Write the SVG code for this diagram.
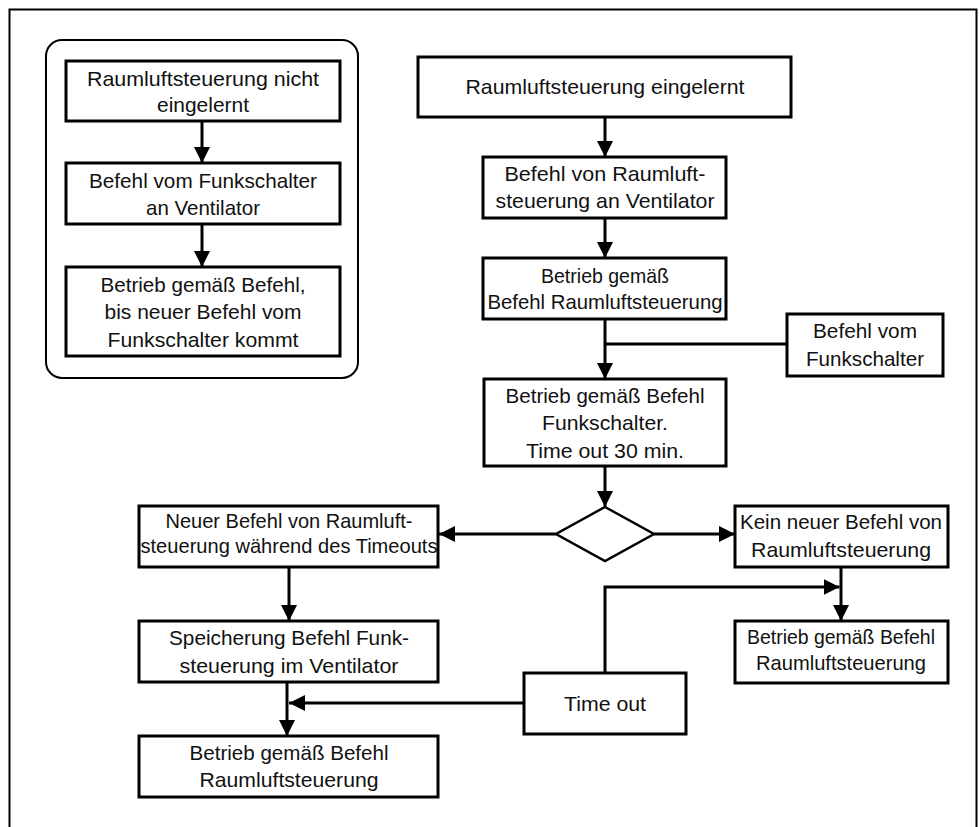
<svg xmlns="http://www.w3.org/2000/svg" width="980" height="827" viewBox="0 0 980 827">
<style>
.frame{fill:none;stroke:#000;stroke-width:2}
.box{fill:#fff;stroke:#000;stroke-width:3}
.dia{fill:#fff;stroke:#000;stroke-width:2.5}
.ln{fill:none;stroke:#000;stroke-width:3}
text{font-family:"Liberation Sans",Arial,sans-serif;font-size:21px;fill:#111;text-anchor:middle}
</style>
<defs>
<marker id="ah" markerUnits="userSpaceOnUse" markerWidth="16" markerHeight="16" refX="15" refY="7.5" orient="auto" viewBox="0 0 15 15">
<path d="M0,0 L15,7.5 L0,15 z" fill="#000"/>
</marker>
</defs>
<rect x="0" y="0" width="980" height="827" fill="#fff"/>
<rect class="frame" x="9.5" y="9.5" width="967" height="830"/>
<rect id="group-left" class="frame" x="46" y="40" width="312" height="338" rx="16"/>

<g id="connectors">
<line class="ln" x1="202" y1="121" x2="202" y2="163" marker-end="url(#ah)"/>
<line class="ln" x1="202" y1="224" x2="202" y2="267" marker-end="url(#ah)"/>
<line class="ln" x1="605" y1="117" x2="605" y2="157" marker-end="url(#ah)"/>
<line class="ln" x1="605" y1="218" x2="605" y2="258" marker-end="url(#ah)"/>
<line class="ln" x1="605" y1="319" x2="605" y2="379" marker-end="url(#ah)"/>
<line class="ln" x1="787" y1="344" x2="605" y2="344"/>
<line class="ln" x1="605" y1="466" x2="605" y2="507" marker-end="url(#ah)"/>
<line class="ln" x1="556" y1="534" x2="439" y2="534" marker-end="url(#ah)"/>
<line class="ln" x1="654" y1="534" x2="735" y2="534" marker-end="url(#ah)"/>
<line class="ln" x1="289" y1="567" x2="289" y2="621" marker-end="url(#ah)"/>
<line class="ln" x1="287" y1="682" x2="287" y2="736" marker-end="url(#ah)"/>
<line class="ln" x1="524" y1="703" x2="289" y2="703" marker-end="url(#ah)"/>
<line class="ln" x1="841" y1="567" x2="841" y2="621" marker-end="url(#ah)"/>
<polyline class="ln" points="605,673 605,587 839.5,587" marker-end="url(#ah)"/>
</g>

<g id="n1">
<rect class="box" x="66" y="61" width="274" height="60"/>
<text x="203" y="86" textLength="232" lengthAdjust="spacingAndGlyphs">Raumluftsteuerung nicht</text>
<text x="203" y="112" textLength="92" lengthAdjust="spacingAndGlyphs">eingelernt</text>
</g>
<g id="n2">
<rect class="box" x="66" y="163" width="274" height="61"/>
<text x="203" y="188" textLength="228" lengthAdjust="spacingAndGlyphs">Befehl vom Funkschalter</text>
<text x="203" y="215" textLength="114" lengthAdjust="spacingAndGlyphs">an Ventilator</text>
</g>
<g id="n3">
<rect class="box" x="66" y="267" width="274" height="89"/>
<text x="203" y="292" textLength="205" lengthAdjust="spacingAndGlyphs">Betrieb gemäß Befehl,</text>
<text x="203" y="319" textLength="197" lengthAdjust="spacingAndGlyphs">bis neuer Befehl vom</text>
<text x="203" y="347" textLength="191" lengthAdjust="spacingAndGlyphs">Funkschalter kommt</text>
</g>

<g id="r1">
<rect class="box" x="418" y="57" width="373" height="60"/>
<text x="605" y="94" textLength="279" lengthAdjust="spacingAndGlyphs">Raumluftsteuerung eingelernt</text>
</g>
<g id="r2">
<rect class="box" x="483" y="157" width="243" height="61"/>
<text x="605" y="181" textLength="201" lengthAdjust="spacingAndGlyphs">Befehl von Raumluft-</text>
<text x="605" y="208" textLength="219" lengthAdjust="spacingAndGlyphs">steuerung an Ventilator</text>
</g>
<g id="r3">
<rect class="box" x="483" y="258" width="243" height="61"/>
<text x="605" y="283" textLength="128" lengthAdjust="spacingAndGlyphs">Betrieb gemäß</text>
<text x="605" y="309" textLength="235" lengthAdjust="spacingAndGlyphs">Befehl Raumluftsteuerung</text>
</g>
<g id="funk">
<rect class="box" x="787" y="314" width="156" height="62"/>
<text x="865" y="338" textLength="104" lengthAdjust="spacingAndGlyphs">Befehl vom</text>
<text x="865" y="366" textLength="118" lengthAdjust="spacingAndGlyphs">Funkschalter</text>
</g>
<g id="r4">
<rect class="box" x="484" y="379" width="242" height="87"/>
<text x="605" y="403" textLength="199" lengthAdjust="spacingAndGlyphs">Betrieb gemäß Befehl</text>
<text x="605" y="430" textLength="126" lengthAdjust="spacingAndGlyphs">Funkschalter.</text>
<text x="605" y="458" textLength="158" lengthAdjust="spacingAndGlyphs">Time out 30 min.</text>
</g>
<g id="decision">
<polygon class="dia" points="605,507 654,534 605,561 556,534"/>
</g>
<g id="neuer">
<rect class="box" x="139" y="506" width="299" height="61"/>
<text x="289" y="528" textLength="247" lengthAdjust="spacingAndGlyphs">Neuer Befehl von Raumluft-</text>
<text x="289" y="553" textLength="297" lengthAdjust="spacingAndGlyphs">steuerung während des Timeouts</text>
</g>
<g id="kein">
<rect class="box" x="735" y="506" width="213" height="61"/>
<text x="841" y="529" textLength="202" lengthAdjust="spacingAndGlyphs">Kein neuer Befehl von</text>
<text x="841" y="557" textLength="180" lengthAdjust="spacingAndGlyphs">Raumluftsteuerung</text>
</g>
<g id="speicher">
<rect class="box" x="139" y="621" width="299" height="61"/>
<text x="289" y="645" textLength="240" lengthAdjust="spacingAndGlyphs">Speicherung Befehl Funk-</text>
<text x="289" y="673" textLength="219" lengthAdjust="spacingAndGlyphs">steuerung im Ventilator</text>
</g>
<g id="betrieb-left">
<rect class="box" x="139" y="736" width="299" height="61"/>
<text x="289" y="760" textLength="199" lengthAdjust="spacingAndGlyphs">Betrieb gemäß Befehl</text>
<text x="289" y="787" textLength="179" lengthAdjust="spacingAndGlyphs">Raumluftsteuerung</text>
</g>
<g id="betrieb-right">
<rect class="box" x="735" y="621" width="213" height="62"/>
<text x="841" y="644" textLength="188" lengthAdjust="spacingAndGlyphs">Betrieb gemäß Befehl</text>
<text x="841" y="670" textLength="170" lengthAdjust="spacingAndGlyphs">Raumluftsteuerung</text>
</g>
<g id="timeout">
<rect class="box" x="524" y="673" width="162" height="61"/>
<text x="605" y="711" textLength="82" lengthAdjust="spacingAndGlyphs">Time out</text>
</g>
</svg>
